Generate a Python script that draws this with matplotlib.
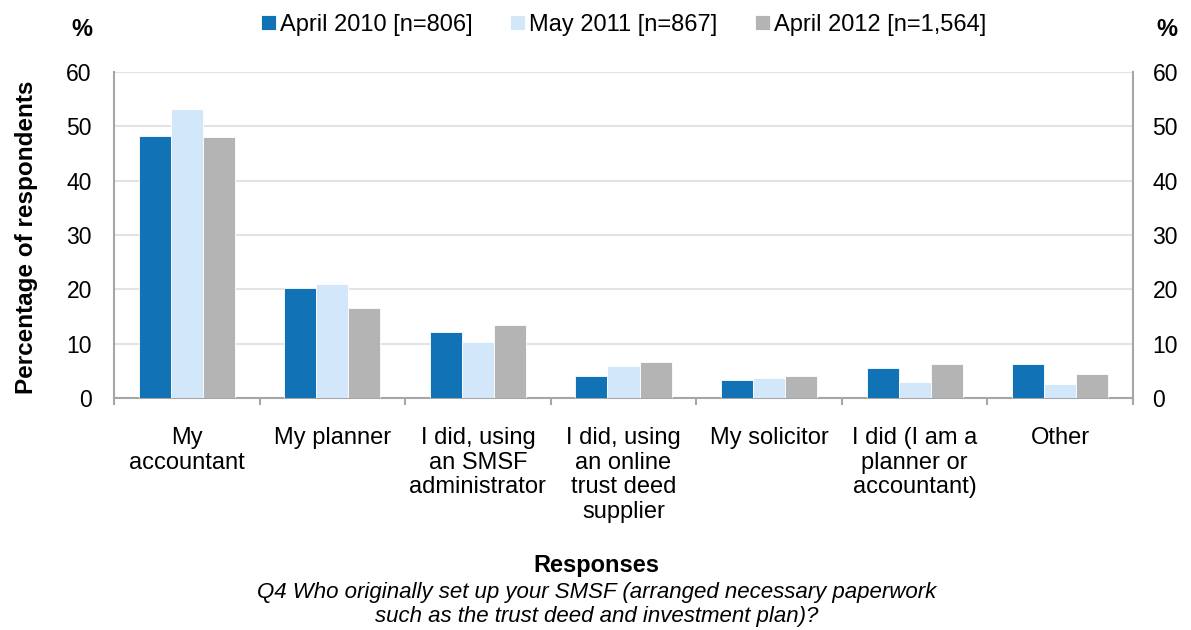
import matplotlib.pyplot as plt
import numpy as np

plt.rcParams['font.family'] = ['Liberation Sans', 'DejaVu Sans']

categories = ['My\naccountant', 'My planner', 'I did, using\nan SMSF\nadministrator',
              'I did, using\nan online\ntrust deed\nsupplier', 'My solicitor',
              'I did (I am a\nplanner or\naccountant)', 'Other']
series_names = ['April 2010 [n=806]', 'May 2011 [n=867]', 'April 2012 [n=1,564]']
april_2010 = [48.3, 20.2, 12.1, 4.0, 3.3, 5.5, 6.2]
may_2011 = [53.1, 20.9, 10.3, 5.9, 3.7, 3.0, 2.6]
april_2012 = [48.0, 16.5, 13.5, 6.6, 4.0, 6.2, 4.4]

colors = ['#1172b6', '#d2e8fa', '#b4b4b4']
axis_grey = '#a6a6a6'

fig = plt.figure(figsize=(11.91, 6.3), dpi=100)
ax = fig.add_axes([0.0957, 0.3683, 0.8556, 0.5174])

x = np.arange(len(categories))
w = 0.22
for i, (vals, name) in enumerate(zip([april_2010, may_2011, april_2012], series_names)):
    ax.bar(x + (i - 1) * w, vals, w, color=colors[i], label=name,
           edgecolor='white', linewidth=0.6, zorder=3)

ax.set_xlim(-0.5, len(categories) - 0.5)
ax.set_ylim(0, 60)
ax.set_yticks(range(0, 61, 10))
ax.yaxis.grid(True, color='#e3e3e3', linewidth=1.5, zorder=0)
ax.tick_params(axis='y', length=0, labelsize=16.5, pad=16)

# category boundaries carry the ticks
ax.set_xticks(np.arange(-0.5, len(categories), 1))
ax.set_xticklabels([])
ax.tick_params(axis='x', length=5, color=axis_grey, width=1.5, direction='out')
for xi, lab in zip(x, categories):
    ax.text(xi, -5.4, lab, ha='center', va='top', fontsize=17, linespacing=1.15)

for s in ['left', 'right', 'bottom']:
    ax.spines[s].set_color(axis_grey)
    ax.spines[s].set_linewidth(1.5)
ax.spines['top'].set_visible(False)

ax2 = ax.twinx()
ax2.set_ylim(0, 60)
ax2.set_yticks(range(0, 61, 10))
ax2.tick_params(axis='y', length=0, labelsize=16.5, pad=14)
for s in ['left', 'right', 'bottom', 'top']:
    ax2.spines[s].set_visible(False)

fig.text(0.022, 0.624, 'Percentage of respondents', fontsize=17.5, fontweight='bold',
         rotation=90, ha='center', va='center')

fig.text(0.069, 0.953, '%', fontsize=17, fontweight='bold', ha='center', va='center')
fig.text(0.980, 0.953, '%', fontsize=17, fontweight='bold', ha='center', va='center')

ax.legend(loc='center', bbox_to_anchor=(0.5, 1.145), ncol=3, frameon=False,
          fontsize=17, handlelength=0.65, handleheight=0.65, handletextpad=0.15,
          columnspacing=1.6)

fig.text(0.501, 0.103, 'Responses', fontsize=17, fontweight='bold', ha='center', va='center')
fig.text(0.501, 0.059, 'Q4 Who originally set up your SMSF (arranged necessary paperwork',
         fontsize=16, style='italic', ha='center', va='center')
fig.text(0.501, 0.022, 'such as the trust deed and investment plan)?',
         fontsize=16, style='italic', ha='center', va='center')

fig.savefig('out.png', dpi=100)
